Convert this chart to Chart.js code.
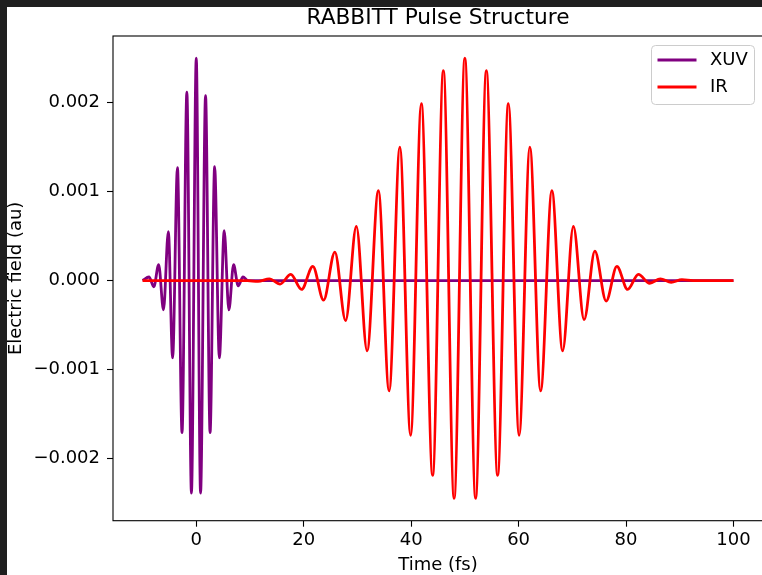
<!DOCTYPE html>
<html>
<head>
<meta charset="utf-8">
<script src="https://cdn.jsdelivr.net/npm/chart.js@4.4.1/dist/chart.umd.min.js"></script>
<style>
  html, body { margin: 0; padding: 0; background: #1f1f1f; overflow: hidden; width: 762px; height: 575px; }
  #wrap { position: absolute; left: 7px; top: 7px; width: 756px; height: 568px; background: #fff; }
</style>
</head>
<body>
<div id="wrap"><canvas id="pulseChart" width="756" height="568"></canvas></div>
<script>
// values (extrema of each pulse, in fs / au)
const xuvTime = [-10, -8.8, -7.9, -7.0, -6.1, -5.2, -4.4, -3.5, -2.65, -1.75, -0.9, 0, 0.8, 1.73, 2.57, 3.42, 4.3, 5.2, 6.07, 6.95, 7.8, 8.7, 9.6, 100];
const xuvField = [0, 0.00004, -0.00007, 0.00018, -0.00033, 0.00055, -0.00087, 0.00127, -0.00171, 0.00212, -0.00239, 0.00250, -0.00239, 0.00208, -0.00171, 0.00128, -0.00087, 0.00056, -0.00033, 0.00018, -0.00006, 0.00004, 0, 0];

const irTime = [-10, 9.5, 11.5, 13.6, 15.6, 17.6, 19.6, 21.7, 23.7, 25.8, 27.8, 29.8, 31.8, 33.9, 35.9, 37.9, 39.9, 41.9, 44.0, 46.0, 48.0, 50.0,
  52.0, 54.0, 56.1, 58.1, 60.1, 62.1, 64.1, 66.2, 68.2, 70.2, 72.2, 74.2, 76.3, 78.3, 80.3, 82.3, 84.4, 86.4, 88.4, 90.4, 92.5, 100];
const irField = [0, 0, -0.00001, 0.00002, -0.00004, 0.00007, -0.00010, 0.00016, -0.00022, 0.00032, -0.00045, 0.00061, -0.00079, 0.00101, -0.00124, 0.00150, -0.00174, 0.00199, -0.00219, 0.00236, -0.00245, 0.00250,
  -0.00245, 0.00236, -0.00219, 0.00199, -0.00174, 0.00150, -0.00124, 0.00101, -0.00079, 0.00061, -0.00044, 0.00033, -0.00023, 0.00016, -0.00010, 0.00007, -0.00003, 0.00002, -0.00002, 0.00001, 0, 0];

const xTicks = [0, 20, 40, 60, 80, 100];
const yTicks = [-0.002, -0.001, 0, 0.001, 0.002];

const FONT = 'DejaVu Sans';
Chart.defaults.font.family = FONT;
Chart.defaults.color = '#000';

const toPoints = (xs, ys) => xs.map((x, i) => ({ x: x, y: ys[i] }));

// box round the plot area (matplotlib style spines)
const framePlugin = {
  id: 'frame',
  afterDraw(chart) {
    const { ctx, chartArea: a } = chart;
    ctx.save();
    ctx.strokeStyle = '#000';
    ctx.lineWidth = 1.1;
    ctx.strokeRect(a.left, a.top, a.right - a.left, a.bottom - a.top);
    ctx.restore();
  }
};

// legend inside the upper right corner
const boxLegend = {
  id: 'boxLegend',
  afterDraw(chart) {
    const { ctx, chartArea: a } = chart;
    const w = 103, h = 59;
    const left = a.right - 9 - w, top = a.top + 9;
    ctx.save();
    ctx.fillStyle = 'rgba(255,255,255,0.8)';
    ctx.strokeStyle = '#cccccc';
    ctx.lineWidth = 1;
    ctx.beginPath();
    ctx.roundRect(left + 0.5, top + 0.5, w, h, 4);
    ctx.fill();
    ctx.stroke();
    chart.data.datasets.forEach((ds, i) => {
      const y = top + 15 + i * 27;
      ctx.strokeStyle = ds.borderColor;
      ctx.lineWidth = 2.8;
      ctx.beginPath();
      ctx.moveTo(left + 6.5, y);
      ctx.lineTo(left + 45.5, y);
      ctx.stroke();
      ctx.fillStyle = '#000';
      ctx.font = '18px "' + FONT + '"';
      ctx.textBaseline = 'middle';
      ctx.fillText(ds.label, left + 59, y);
    });
    ctx.restore();
  }
};

new Chart(document.getElementById('pulseChart'), {
  type: 'line',
  data: {
    datasets: [
      {
        label: 'XUV',
        data: toPoints(xuvTime, xuvField),
        borderColor: '#800080',
        borderWidth: 2.8,
        pointRadius: 0,
        cubicInterpolationMode: 'monotone',
        fill: false,
        order: 1
      },
      {
        label: 'IR',
        data: toPoints(irTime, irField),
        borderColor: '#ff0000',
        borderWidth: 2.8,
        pointRadius: 0,
        cubicInterpolationMode: 'monotone',
        fill: false,
        order: 0
      }
    ]
  },
  options: {
    responsive: false,
    animation: false,
    devicePixelRatio: 1,
    layout: { padding: 0 },
    plugins: {
      legend: { display: false },
      tooltip: { enabled: false },
      title: {
        display: true,
        text: 'RABBITT Pulse Structure',
        fullSize: false,
        color: '#000',
        font: { size: 21.7, weight: 'normal', lineHeight: 1 },
        padding: { top: 0.5, bottom: 6.8 }
      }
    },
    scales: {
      x: {
        type: 'linear',
        min: -15.5,
        max: 105.5,
        afterFit: (s) => { s.height = 54.3; },
        afterBuildTicks: (s) => { s.ticks = xTicks.map(v => ({ value: v })); },
        border: { display: false },
        grid: { drawOnChartArea: false, drawTicks: true, tickLength: 6, tickWidth: 1.1, tickColor: '#000' },
        ticks: { font: { size: 18 }, padding: 3, maxRotation: 0, callback: (v) => String(v) },
        title: { display: true, text: 'Time (fs)', font: { size: 18, lineHeight: 1 }, padding: { top: 0, bottom: 1 } }
      },
      y: {
        type: 'linear',
        min: -0.0027,
        max: 0.00275,
        afterFit: (s) => { s.width = 106; },
        afterBuildTicks: (s) => { s.ticks = yTicks.map(v => ({ value: v })); },
        border: { display: false },
        grid: { drawOnChartArea: false, drawTicks: true, tickLength: 6, tickWidth: 1.1, tickColor: '#000' },
        ticks: {
          font: { size: 18 },
          padding: 7,
          callback: (v) => (v < 0 ? '\u2212' : '') + Math.abs(v).toFixed(3)
        },
        title: { display: true, text: 'Electric field (au)', font: { size: 18, lineHeight: 1 }, padding: { top: 0, bottom: 0 } }
      }
    }
  },
  plugins: [framePlugin, boxLegend]
});
</script>
</body>
</html>
